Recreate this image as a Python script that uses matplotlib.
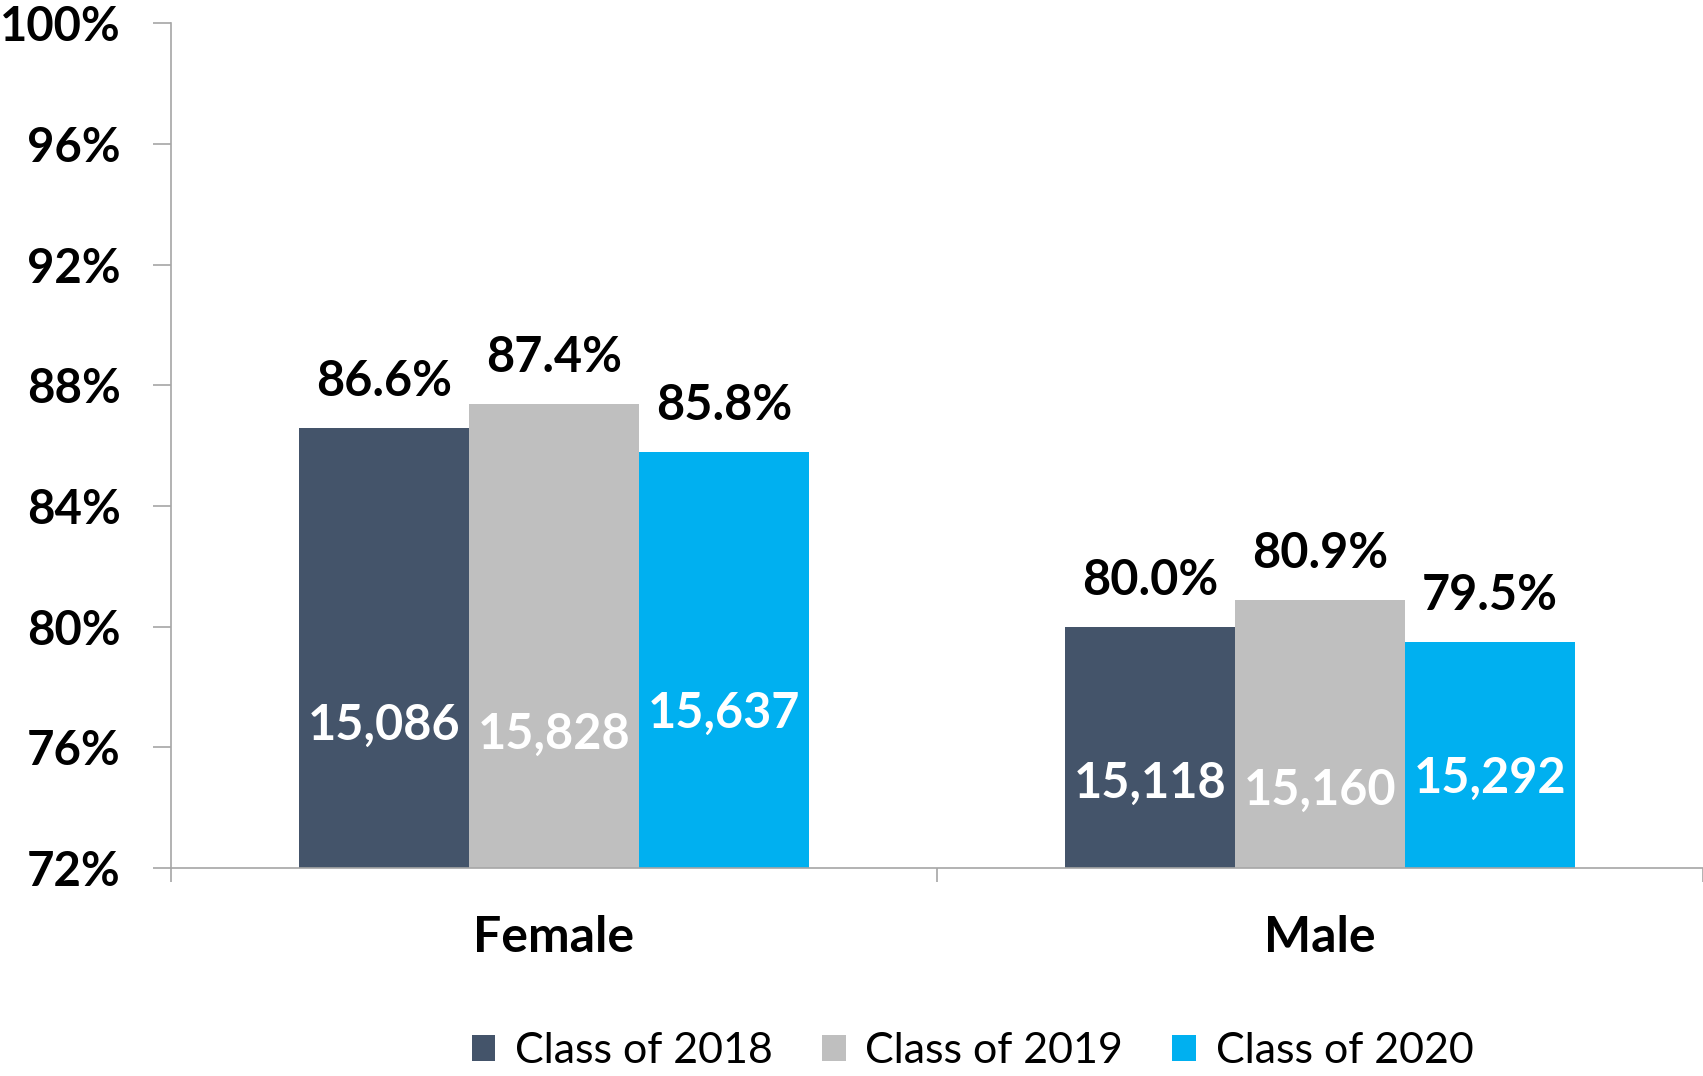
import numpy as np
import matplotlib.pyplot as plt

plt.rcParams['font.family'] = ['Lato', 'DejaVu Sans']

# data
groups = ["Female", "Male"]
series = ["Class of 2018", "Class of 2019", "Class of 2020"]
rates = [[86.6, 80.0],   # 2018
         [87.4, 80.9],   # 2019
         [85.8, 79.5]]   # 2020
counts = [["15,086", "15,118"],
          ["15,828", "15,160"],
          ["15,637", "15,292"]]
yticks = [72, 76, 80, 84, 88, 92, 96, 100]

colors = ["#44546A", "#BFBFBF", "#00B0F0"]
# where the white count labels sit (data units), as placed in the original
count_y = [[76.74, 74.82],
           [76.44, 74.57],
           [77.12, 74.96]]

fig = plt.figure(figsize=(17.03, 10.76), dpi=100)
ax = fig.add_axes([0.1004, 0.1933, 0.8996, 0.7849])

x = np.arange(len(groups))
w = 2 / 9
for i in range(3):
    xs = x + (i - 1) * w
    ax.bar(xs, np.array(rates[i]) - 72, bottom=72, width=w, color=colors[i], label=series[i])
    for j in range(len(groups)):
        ax.annotate(f"{rates[i][j]:.1f}%", (xs[j], rates[i][j]), xytext=(0, 17),
                    textcoords="offset points", ha="center", va="bottom",
                    fontsize=35, fontweight="bold", color="black")
        ax.text(xs[j], count_y[i][j], counts[i][j], ha="center", va="center",
                fontsize=35, fontweight="bold", color="white")

ax.set_ylim(72, 100)
ax.set_xlim(-0.5, 1.5)
ax.set_yticks(yticks)
ax.set_yticklabels([f"{t}%" for t in yticks], fontsize=34, fontweight="bold")
ax.tick_params(axis="y", length=13, width=1.2, color="#A6A6A6", pad=23)

ax.set_xticks([-0.5, 0.5, 1.5])
ax.set_xticklabels([])
ax.tick_params(axis="x", which="major", length=10, width=1.2, color="#A6A6A6")
ax.set_xticks(x, minor=True)
ax.set_xticklabels(groups, minor=True, fontsize=36, fontweight="bold")
ax.tick_params(axis="x", which="minor", length=0, pad=34)

for s in ["top", "right"]:
    ax.spines[s].set_visible(False)
for s in ["left", "bottom"]:
    ax.spines[s].set_color("#A6A6A6")
    ax.spines[s].set_linewidth(1.2)

fig.legend(loc="center", bbox_to_anchor=(0.571, 0.023), ncol=3, frameon=False,
           fontsize=31, handlelength=0.55, handleheight=0.55, handletextpad=0.45,
           columnspacing=1.15)

fig.savefig("out.png", dpi=100)
